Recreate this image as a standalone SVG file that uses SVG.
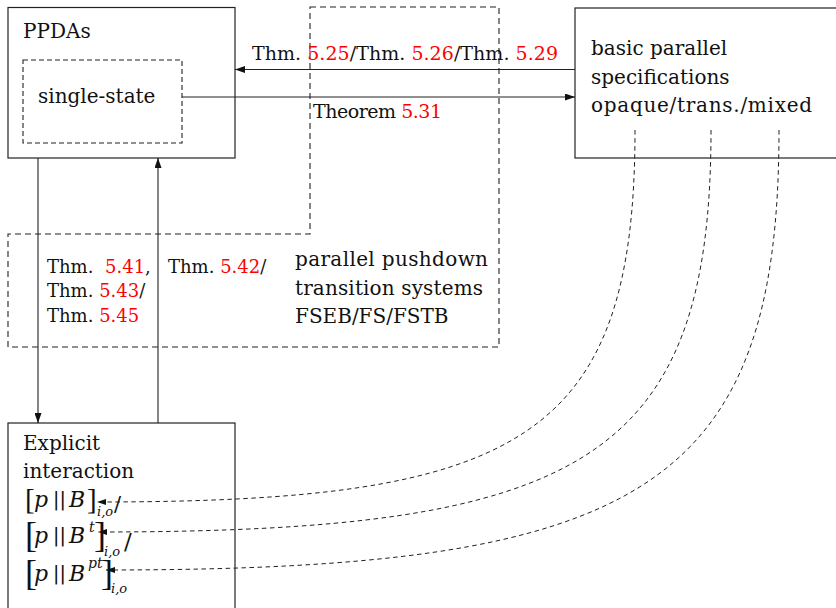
<svg xmlns="http://www.w3.org/2000/svg" width="836" height="608" viewBox="0 0 836 608">
<style>
.box{fill:none;stroke:#222;stroke-width:1.2}
.dbox{fill:none;stroke:#222;stroke-width:1.1;stroke-dasharray:6,4}
.ln{fill:none;stroke:#222;stroke-width:1.1}
.dc{fill:none;stroke:#222;stroke-width:1;stroke-dasharray:4.5,3.5}
.t{font-family:"DejaVu Serif",serif;font-size:20px;fill:#111}
.l{font-family:"DejaVu Serif",serif;font-size:19px;fill:#111}
.s{font-family:"DejaVu Serif",serif;font-size:18px;fill:#111}
.r{fill:#ff0000}
.mi{font-family:"DejaVu Serif",serif;font-style:italic;font-size:22px;fill:#111}
.sup{font-family:"DejaVu Serif",serif;font-style:italic;font-size:14px;fill:#111}
.sub{font-family:"DejaVu Serif",serif;font-style:italic;font-size:13px;fill:#111}
.br{font-family:"Liberation Serif",serif;fill:#111}
.bar{font-family:"DejaVu Sans",sans-serif;font-size:19px;fill:#111}
</style>
<defs>
<marker id="a" markerWidth="10" markerHeight="7" refX="10" refY="3.5" orient="auto" markerUnits="userSpaceOnUse">
<path d="M0,0 L10,3.5 L0,7 z" fill="#111"/>
</marker>
<marker id="b" markerWidth="9" markerHeight="6" refX="9" refY="3" orient="auto" markerUnits="userSpaceOnUse">
<path d="M0,0 L9,3 L0,6 z" fill="#111"/>
</marker>
</defs>
<rect width="836" height="608" fill="#fff"/>

<g id="pts">
<path class="dbox" d="M310,7 H499 V347 H8 V234 H310 Z"/>
<text class="t" x="295" y="266" textLength="193">parallel pushdown</text>
<text class="t" x="295" y="295" textLength="188">transition systems</text>
<text class="t" x="295" y="323">FSEB/FS/FSTB</text>
</g>

<g id="ppdas">
<rect class="box" x="8" y="7.5" width="227" height="150.5"/>
<text class="t" x="23" y="38">PPDAs</text>
</g>

<g id="single-state">
<rect class="dbox" x="23" y="60" width="159" height="83" style="stroke-dasharray:5,3"/>
<text class="t" x="38" y="103">single-state</text>
</g>

<g id="basic">
<rect class="box" x="575" y="8" width="280" height="150"/>
<text class="t" x="591" y="55">basic parallel</text>
<text class="t" x="591" y="84">specifications</text>
<text class="t" x="591" y="112" textLength="221">opaque/trans./mixed</text>
</g>

<g id="explicit">
<rect class="box" x="8" y="423" width="227" height="200"/>
<text class="t" x="23" y="450">Explicit</text>
<text class="t" x="23" y="478">interaction</text>
<text class="br" x="25" y="509" font-size="29">[</text>
<text class="mi" x="34" y="507">p</text>
<text class="bar" x="53" y="506">||</text>
<text class="mi" x="69" y="507">B</text>
<text class="br" x="87" y="509" font-size="29">]</text>
<text class="sub" x="97" y="516">i,o</text>
<text class="t" x="114" y="511" style="font-size:21px">/</text>

<text class="br" x="25" y="547" font-size="36">[</text>
<text class="mi" x="34" y="543">p</text>
<text class="bar" x="53" y="542">||</text>
<text class="mi" x="69" y="543">B</text>
<text class="sup" x="89" y="532">t</text>
<text class="br" x="94" y="547" font-size="36">]</text>
<text class="sub" x="104" y="556">i,o</text>
<text class="t" x="124" y="549" style="font-size:23px">/</text>

<text class="br" x="25" y="585" font-size="36">[</text>
<text class="mi" x="34" y="581">p</text>
<text class="bar" x="53" y="580">||</text>
<text class="mi" x="69" y="581">B</text>
<text class="sup" x="88" y="568">pt</text>
<text class="br" x="101" y="585" font-size="36">]</text>
<text class="sub" x="111" y="593">i,o</text>
</g>

<g id="connectors">
<line class="ln" x1="575" y1="69.5" x2="235" y2="69.5" marker-end="url(#a)"/>
<line class="ln" x1="182" y1="97" x2="575" y2="97" marker-end="url(#a)"/>
<line class="ln" x1="38" y1="158" x2="38" y2="423" marker-end="url(#a)"/>
<line class="ln" x1="158" y1="423" x2="158" y2="158" marker-end="url(#a)"/>
<path class="dc" d="M635,130 C635,440 520,502 97,502" marker-end="url(#b)"/>
<path class="dc" d="M711,130 C711,462 580,532 98,532" marker-end="url(#b)"/>
<path class="dc" d="M779,130 C779,490 640,570 106,570" marker-end="url(#b)"/>
</g>

<g id="labels">
<text class="l" x="252" y="60" textLength="306">Thm. <tspan class="r">5.25</tspan>/Thm. <tspan class="r">5.26</tspan>/Thm. <tspan class="r">5.29</tspan></text>
<text class="l" x="313" y="118" textLength="129">Theorem <tspan class="r">5.31</tspan></text>
<text class="s" x="47" y="273">Thm.</text>
<text class="s" x="105" y="273"><tspan class="r">5.41</tspan>,</text>
<text class="s" x="47" y="297">Thm. <tspan class="r">5.43</tspan>/</text>
<text class="s" x="47" y="322">Thm. <tspan class="r">5.45</tspan></text>
<text class="s" x="168" y="273">Thm. <tspan class="r">5.42</tspan>/</text>
</g>
</svg>
